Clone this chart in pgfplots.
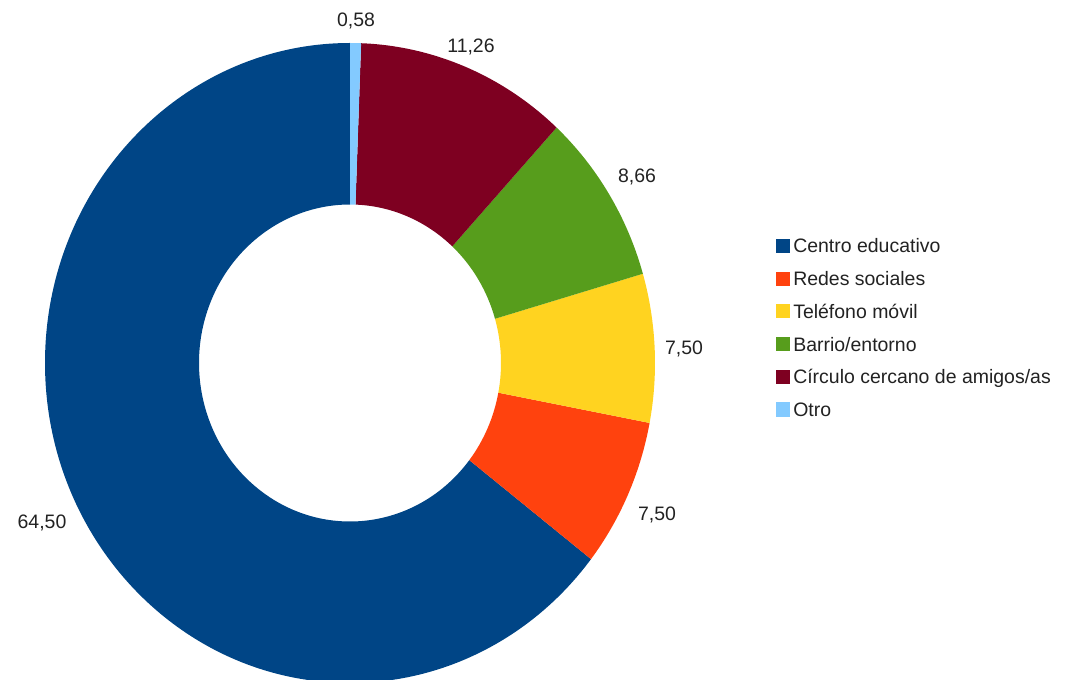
\documentclass[border=0pt]{standalone}
\usepackage{pgfplots}
\pgfplotsset{compat=1.18}
\usepackage{fontspec}
\setmainfont{Liberation Sans}
\definecolor{cA}{HTML}{004586}
\definecolor{cB}{HTML}{FF420E}
\definecolor{cC}{HTML}{FFD320}
\definecolor{cD}{HTML}{579D1C}
\definecolor{cE}{HTML}{7E0021}
\definecolor{cF}{HTML}{83CAFF}
\definecolor{txt}{HTML}{222222}
\begin{document}
\begin{tikzpicture}
\begin{axis}[
  x=0.75pt, y=0.75pt,
  xmin=0, xmax=1068, ymin=0, ymax=679,
  scale only axis, hide axis, clip=false,
]
\addplot[draw=none] coordinates {(0,0) (1068,679)};
\pgfplotsextra{
  \xdef\a{90}
  \foreach \v/\c in {64.50/cA, 7.50/cB, 7.50/cC, 8.66/cD, 11.26/cE, 0.58/cF}{
    \pgfmathsetmacro\b{\a+3.6*\v}
    \fill[\c] (axis cs:350,316) ++(\a:228.75pt and 240pt)
      arc[start angle=\a, end angle=\b, x radius=228.75pt, y radius=240pt]
      -- ++(\b+180:115.5pt and 121.125pt)
      arc[start angle=\b, end angle=\a, x radius=113.25pt, y radius=118.875pt]
      -- cycle;
    \xdef\a{\b}
  }
  \begin{scope}[every node/.style={font=\fontsize{14.6}{17}\selectfont, text=txt, inner sep=0pt}]
  % data labels
  \node[anchor=base] at (axis cs:356,652) {0,58};
  \node[anchor=base] at (axis cs:471,626) {11,26};
  \node[anchor=base] at (axis cs:637,496) {8,66};
  \node[anchor=base] at (axis cs:684,324) {7,50};
  \node[anchor=base] at (axis cs:657,159) {7,50};
  \node[anchor=base] at (axis cs:42,151) {64,50};
  % legend
  \foreach \yy/\c/\t in {433/cA/Centro educativo, 400.3/cB/Redes sociales, 367.6/cC/Teléfono móvil, 334.9/cD/Barrio\slash entorno, 302.2/cE/Círculo cercano de amigos\slash as, 269.5/cF/Otro}{
    \fill[\c] (axis cs:776,\yy-7) rectangle (axis cs:790,\yy+7);
    \node[anchor=base west] at (axis cs:793,\yy-7) {\t};
  }
  \end{scope}
}
\end{axis}
\pgfresetboundingbox
\path (current axis.south west) rectangle (current axis.north east);
\end{tikzpicture}
\end{document}
